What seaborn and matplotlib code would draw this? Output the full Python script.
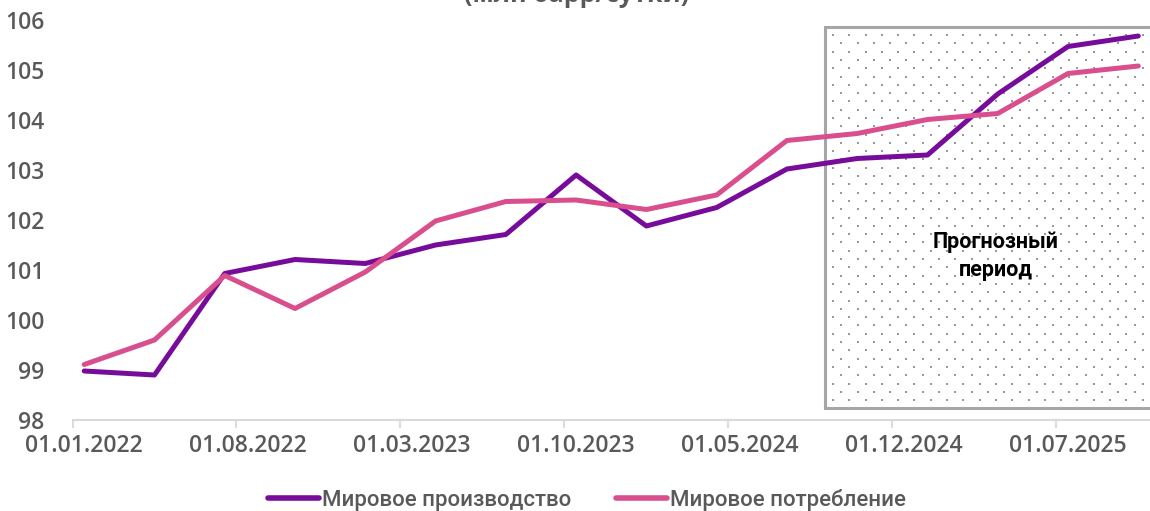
import numpy as np
import pandas as pd
import matplotlib
matplotlib.use("Agg")
import matplotlib.pyplot as plt
import seaborn as sns
from matplotlib.patches import Rectangle
from matplotlib.transforms import IdentityTransform
from matplotlib.lines import Line2D

# ---- data ----
dates = ["2022-01-01", "2022-04-01", "2022-07-01", "2022-10-01",
         "2023-01-01", "2023-04-01", "2023-07-01", "2023-10-01",
         "2024-01-01", "2024-04-01", "2024-07-01", "2024-10-01",
         "2025-01-01", "2025-04-01", "2025-07-01", "2025-10-01"]
production = [98.98, 98.90, 100.93, 101.21, 101.13, 101.50, 101.71, 102.90,
              101.88, 102.25, 103.02, 103.23, 103.30, 104.52, 105.47, 105.68]
consumption = [99.11, 99.60, 100.89, 100.23, 100.96, 101.98, 102.37, 102.40,
               102.21, 102.50, 103.59, 103.73, 104.01, 104.13, 104.93, 105.08]
series_names = ["Мировое производство", "Мировое потребление"]
tick_labels = ["01.01.2022", "01.08.2022", "01.03.2023", "01.10.2023",
               "01.05.2024", "01.12.2024", "01.07.2025"]
y_ticks = [98, 99, 100, 101, 102, 103, 104, 105, 106]
title = "(млн барр/сутки)"
forecast_label = "Прогнозный\nпериод"

colors = {"Мировое производство": "#780c9a", "Мировое потребление": "#d94f8d"}
GRAY = "#595959"

base = pd.Timestamp("2022-01-01")
def month_index(ts):
    ts = pd.Timestamp(ts)
    return (ts.year - base.year) * 12 + ts.month - base.month

df = pd.DataFrame({
    "m": [month_index(d) for d in dates] * 2,
    "value": production + consumption,
    "series": [series_names[0]] * len(dates) + [series_names[1]] * len(dates),
})

sns.set_theme(style="white")
plt.rcParams["font.family"] = ["Open Sans", "DejaVu Sans"]

W, H = 1150, 511
fig = plt.figure(figsize=(W / 100, H / 100), dpi=100)
ax = fig.add_axes([72.5 / W, 91 / H, 1077.5 / W, 400 / H])

# forecast box
rect = Rectangle((0.698, 0.03), 0.4, 0.9525, transform=ax.transAxes,
                 facecolor="white", edgecolor="#a6a6a6", linewidth=2.2,
                 zorder=1, clip_on=False)
ax.add_patch(rect)
# dotted texture (display pixels)
x0, x1 = 833, 1152
ytop, ybot = 35, 404
rows = np.arange(ytop, ybot, 8.3)
xs, ys = [], []
for i, yy in enumerate(rows):
    off = 0 if i % 2 == 0 else 8.2
    for xx in np.arange(x0 + off, x1, 16.3):
        xs.append(xx)
        ys.append(H - yy)
ax.scatter(xs, ys, transform=IdentityTransform(), s=2.0, marker="s",
           color="#999999", linewidths=0, zorder=1.5, clip_on=False)

ax.text(0.857, 0.41, forecast_label, transform=ax.transAxes, ha="center",
        va="center", fontsize=15.5, fontweight="bold", color="black",
        family=["Roboto", "DejaVu Sans"], linespacing=1.3,
        zorder=3)

sns.lineplot(data=df, x="m", y="value", hue="series", palette=colors,
             linewidth=3.6, ax=ax, legend=False, zorder=4)
for ln in ax.get_lines():
    ln.set_solid_capstyle("round")
    ln.set_solid_joinstyle("round")

ax.set_xlim(-0.5, 45.5)
ax.set_ylim(98, 106)
ax.set_yticks(y_ticks)
ax.set_yticklabels([str(v) for v in y_ticks])
tick_pos = [month_index(pd.to_datetime(t, format="%d.%m.%Y")) for t in tick_labels]
ax.set_xticks([p - 0.5 for p in tick_pos])
ax.set_xticklabels([])
ax.set_xticks(tick_pos, minor=True)
ax.set_xticklabels(tick_labels, minor=True)
ax.tick_params(axis="x", which="major", length=6, width=1.3, color="#d9d9d9",
               direction="out", bottom=True)
ax.tick_params(axis="x", which="minor", length=0, pad=10, labelsize=16.5,
               labelcolor=GRAY)
ax.tick_params(axis="y", length=0, pad=20, labelsize=16.5, labelcolor=GRAY)
for lbl in ax.get_xticklabels(minor=True) + ax.get_yticklabels():
    lbl.set_fontweight("semibold")
ax.set_xlabel("")
ax.set_ylabel("")
for s in ["left", "top", "right"]:
    ax.spines[s].set_visible(False)
ax.spines["bottom"].set_color("#d9d9d9")
ax.spines["bottom"].set_linewidth(1.5)
ax.grid(False)

fig.text(577 / W, 1 - 8.3 / H, title, ha="center", va="bottom",
         fontsize=18, fontweight="bold", color=GRAY)

handles = [Line2D([0], [0], color=colors[n], lw=4, solid_capstyle="round")
           for n in series_names]
fig.legend(handles, series_names, loc="center", bbox_to_anchor=(587 / W, 1 - 500 / H),
           ncol=2, frameon=False, handlelength=2.3, handletextpad=0.15,
           columnspacing=2.0,
           prop={"family": ["Roboto", "DejaVu Sans"],
                 "size": 16, "weight": "medium"},
           labelcolor=GRAY)

fig.savefig("out.png", dpi=100)
